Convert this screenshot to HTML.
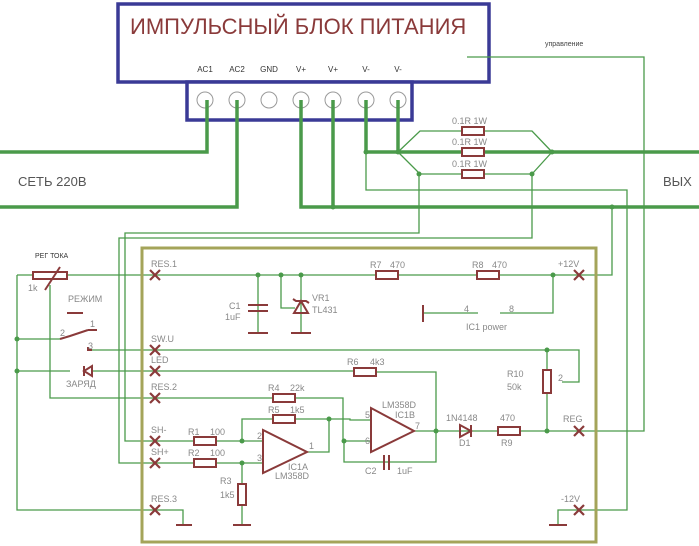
<!DOCTYPE html>
<html><head><meta charset="utf-8"><style>
html,body{margin:0;padding:0;background:#fff;}
svg{display:block;}
text{font-family:"Liberation Sans",sans-serif;}
</style></head><body>
<svg width="699" height="546" viewBox="0 0 699 546" xmlns="http://www.w3.org/2000/svg">
<rect width="699" height="546" fill="#fff"/>
<!-- PSU box -->
<rect x="118" y="4" width="371" height="78" fill="#fff" stroke="#3a3a96" stroke-width="3.5"/>
<rect x="187" y="82" width="225" height="38" fill="#fff" stroke="#3a3a96" stroke-width="3.5"/>
<text x="130" y="34" font-size="22" fill="#8a3a3a">ИМПУЛЬСНЫЙ БЛОК ПИТАНИЯ</text>
<g font-size="8" fill="#333" text-anchor="middle">
<text x="205" y="72">AC1</text><text x="237" y="72">AC2</text><text x="269" y="72">GND</text>
<text x="301" y="72">V+</text><text x="333" y="72">V+</text><text x="366" y="72">V-</text><text x="398" y="72">V-</text>
</g>
<g fill="#fff" stroke="#999" stroke-width="1">
<circle cx="205" cy="100" r="8"/><circle cx="237" cy="100" r="8"/><circle cx="269" cy="100" r="8"/>
<circle cx="301" cy="100" r="8"/><circle cx="333" cy="100" r="8"/><circle cx="366" cy="100" r="8"/><circle cx="398" cy="100" r="8"/>
</g>
<text x="545" y="46" font-size="7" fill="#444">управление</text>
<!-- thick green -->
<g stroke="#4a9a4a" stroke-width="3.5" fill="none">
<polyline points="0,152 207,152 207,100"/>
<polyline points="0,207 237,207 237,100"/>
<polyline points="301,100 301,207 699,207"/>
<line x1="333" y1="100" x2="333" y2="207"/>
<polyline points="366,100 366,152 699,152"/>
<line x1="398" y1="100" x2="398" y2="152"/>
</g>
<text x="18" y="186" font-size="13" fill="#555">СЕТЬ 220В</text>
<text x="663" y="186" font-size="13" fill="#555">ВЫХ</text>
<!-- thin green -->
<g stroke="#4a9a4a" stroke-width="1.3" fill="none">
<polyline points="398,152 420,131 532,131 552,152"/>
<polyline points="398,152 420,174 532,174 552,152"/>
<polyline points="366,152 366,190 627,190 627,510 579,510"/>
<polyline points="419,174 419,233 125,233 125,441 155,441"/>
<polyline points="532,174 532,238 119,238 119,463 155,463"/>
<polyline points="467,57 644,57 644,431 579,431"/>
<polyline points="612,207 612,275 579,275"/>
<polyline points="17,275 17,510 183,510 183,525"/>
<line x1="17" y1="275" x2="580" y2="275"/>
<line x1="17" y1="339" x2="60" y2="339"/>
<line x1="17" y1="371" x2="70" y2="371"/>
<line x1="92" y1="371" x2="365" y2="371"/>
<polyline points="365,372 436,372 436,462 344,462 344,441 371,441"/>
<polyline points="50,285 50,398 343,398 343,441"/>
<polyline points="90,350 579,350 579,382 562,382"/>
<line x1="547" y1="350" x2="547" y2="431"/>
<line x1="155" y1="441" x2="263" y2="441"/>
<line x1="155" y1="463" x2="263" y2="463"/>
<polyline points="242,441 242,419 350,419 350,420 371,420"/>
<polyline points="307,452 329,452 329,419"/>
<line x1="242" y1="463" x2="242" y2="525"/>
<line x1="414" y1="431" x2="579" y2="431"/>
<polyline points="258,275 258,333"/>
<polyline points="281,275 281,308 295,308"/>
<polyline points="301,275 301,333"/>
<polyline points="553,275 553,313 500,313"/>
<line x1="423" y1="313" x2="478" y2="313"/>
<polyline points="579,510 558,510 558,525"/>
</g>
<g fill="#4a9a4a">
<circle cx="366" cy="152" r="2.5"/><circle cx="398" cy="152" r="2.5"/><circle cx="552" cy="152" r="2.5"/>
<circle cx="419" cy="174" r="2.5"/><circle cx="532" cy="174" r="2.5"/><circle cx="333" cy="207" r="2.5"/><circle cx="612" cy="207" r="2.5"/>
<circle cx="17" cy="339" r="2.5"/><circle cx="17" cy="371" r="2.5"/>
<circle cx="258" cy="275" r="2.5"/><circle cx="281" cy="275" r="2.5"/><circle cx="301" cy="275" r="2.5"/><circle cx="553" cy="275" r="2.5"/>
<circle cx="547" cy="350" r="2.5"/><circle cx="242" cy="441" r="2.5"/><circle cx="242" cy="463" r="2.5"/>
<circle cx="329" cy="419" r="2.5"/><circle cx="344" cy="441" r="2.5"/><circle cx="436" cy="431" r="2.5"/><circle cx="547" cy="431" r="2.5"/>
</g>
<!-- main board -->
<rect x="142" y="248" width="454" height="294" fill="none" stroke="#a4a45a" stroke-width="3"/>
<!-- components maroon -->
<g stroke="#8a3a3a" stroke-width="2" fill="#fff">
<rect x="462" y="127" width="22" height="8"/><rect x="462" y="148" width="22" height="8"/><rect x="462" y="170" width="22" height="8"/>
<rect x="33" y="272" width="34" height="7"/>
<rect x="376" y="271" width="22" height="8"/><rect x="477" y="271" width="22" height="8"/>
<rect x="354" y="368" width="22" height="8"/>
<rect x="273" y="394" width="22" height="8"/><rect x="273" y="415" width="22" height="8"/>
<rect x="194" y="437" width="22" height="8"/><rect x="194" y="459" width="22" height="8"/>
<rect x="238" y="484" width="8" height="21"/>
<rect x="498" y="427" width="22" height="8"/>
<rect x="543" y="370" width="8" height="23"/>
</g>
<g stroke="#8a3a3a" stroke-width="2" fill="none">
<line x1="45" y1="290" x2="60" y2="267"/>
<line x1="248" y1="305" x2="268" y2="305"/><line x1="248" y1="311" x2="268" y2="311"/>
<line x1="248" y1="333" x2="268" y2="333"/><line x1="291" y1="333" x2="311" y2="333"/>
<path d="M294,313 L308,313 L301,301 Z"/><path d="M293,299 L296,301 L306,301 L309,303"/>
<line x1="423" y1="305" x2="423" y2="322"/>
<line x1="176" y1="525" x2="192" y2="525"/><line x1="233" y1="525" x2="251" y2="525"/><line x1="549" y1="525" x2="567" y2="525"/>
<path d="M263,430 L263,473 L307,452 Z"/><path d="M371,408 L371,452 L414,431 Z"/>
<line x1="384" y1="455" x2="384" y2="470"/><line x1="389" y1="455" x2="389" y2="470"/>
<path d="M460,425 L460,437 L471,431 Z"/><line x1="471" y1="425" x2="471" y2="437"/>
<path d="M60,339 L70,336 L88,330"/><line x1="88" y1="330" x2="97" y2="330"/>
<path d="M88,347 L88,350 L92,350"/>
<line x1="67" y1="313" x2="83" y2="313"/>
<path d="M92,366 L92,376 L84,371 Z"/><line x1="84" y1="366" x2="84" y2="376"/>
</g>
<g stroke="#8a3a3a" stroke-width="2.2">
<path d="M150,270 l10,10 M160,270 l-10,10"/><path d="M150,345 l10,10 M160,345 l-10,10"/>
<path d="M150,366 l10,10 M160,366 l-10,10"/><path d="M150,393 l10,10 M160,393 l-10,10"/>
<path d="M150,436 l10,10 M160,436 l-10,10"/><path d="M150,458 l10,10 M160,458 l-10,10"/>
<path d="M150,505 l10,10 M160,505 l-10,10"/><path d="M574,270 l10,10 M584,270 l-10,10"/>
<path d="M574,426 l10,10 M584,426 l-10,10"/><path d="M574,505 l10,10 M584,505 l-10,10"/>
</g>
<!-- labels -->
<g font-size="9" fill="#888">
<text x="452" y="124">0.1R 1W</text><text x="452" y="145">0.1R 1W</text><text x="452" y="167">0.1R 1W</text>
<text x="151" y="267">RES.1</text><text x="151" y="342">SW.U</text><text x="151" y="363">LED</text>
<text x="151" y="390">RES.2</text><text x="151" y="433">SH-</text><text x="151" y="455">SH+</text><text x="151" y="502">RES.3</text>
<text x="558" y="267">+12V</text><text x="563" y="422">REG</text><text x="561" y="502">-12V</text>
<text x="370" y="268">R7</text><text x="390" y="268">470</text><text x="472" y="268">R8</text><text x="492" y="268">470</text>
<text x="229" y="309">C1</text><text x="225" y="320">1uF</text><text x="312" y="301">VR1</text><text x="312" y="313">TL431</text>
<text x="464" y="312">4</text><text x="509" y="312">8</text><text x="466" y="330">IC1 power</text>
<text x="347" y="365">R6</text><text x="370" y="365">4k3</text>
<text x="268" y="391">R4</text><text x="290" y="391">22k</text><text x="268" y="413">R5</text><text x="290" y="413">1k5</text>
<text x="188" y="435">R1</text><text x="210" y="435">100</text><text x="188" y="456">R2</text><text x="210" y="456">100</text>
<text x="220" y="484">R3</text><text x="220" y="498">1k5</text>
<text x="257" y="439">2</text><text x="257" y="461">3</text><text x="309" y="449">1</text>
<text x="288" y="470">IC1A</text><text x="275" y="479">LM358D</text>
<text x="382" y="408">LM358D</text><text x="395" y="418">IC1B</text>
<text x="365" y="418">5</text><text x="365" y="444">6</text><text x="415" y="429">7</text>
<text x="365" y="474">C2</text><text x="397" y="474">1uF</text>
<text x="446" y="421">1N4148</text><text x="459" y="446">D1</text><text x="500" y="421">470</text><text x="501" y="446">R9</text>
<text x="507" y="377">R10</text><text x="507" y="390">50k</text><text x="558" y="381">2</text>
<text x="28" y="291">1k</text><text x="68" y="302">РЕЖИМ</text><text x="66" y="387">ЗАРЯД</text>
<text x="90" y="327">1</text><text x="60" y="336">2</text><text x="88" y="349">3</text>
</g>
<text x="35" y="258" font-size="7" fill="#333">РЕГ ТОКА</text>
</svg>
</body></html>
